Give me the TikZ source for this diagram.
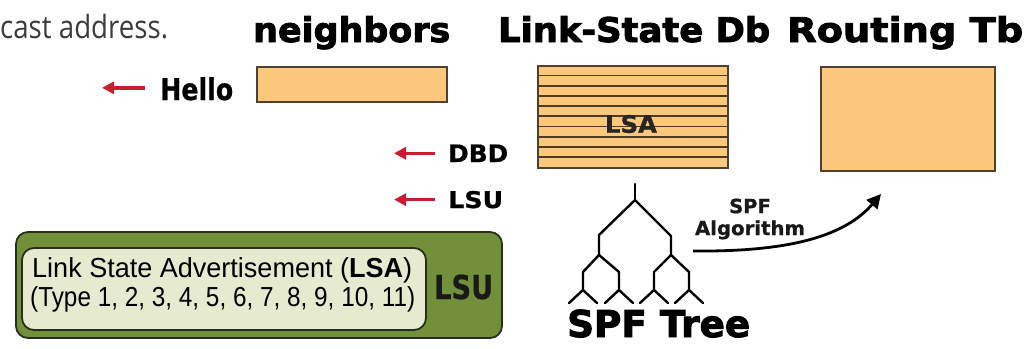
\documentclass[tikz,border=0pt]{standalone}
\usepackage{fontspec}
\usepackage{graphicx}
\usetikzlibrary{arrows.meta}
\setmainfont{Liberation Sans}
\newfontfamily\dv{DejaVu Sans}
\newfontfamily\dvheavy[FakeBold=2.6]{DejaVu Sans Bold}
\newfontfamily\dvsemi[FakeBold=0.8]{DejaVu Sans Bold}
\newfontfamily\osans{Open Sans}

\definecolor{tableorange}{HTML}{FCC87C}
\definecolor{tableedge}{HTML}{4F4030}
\definecolor{stripe}{HTML}{4D3B22}
\definecolor{arrowred}{HTML}{C62030}
\definecolor{olive}{HTML}{72903A}
\definecolor{oliveedge}{HTML}{26301A}
\definecolor{paleolive}{HTML}{E6EACF}
\definecolor{notegray}{HTML}{3C3C3C}

% stretch a box to a given width, keeping its height
\newcommand\fitto[2]{\resizebox{#1}{\height}{#2}}

\tikzset{
  heading/.style={anchor=base west, inner sep=0pt,
    font=\dvheavy\fontsize{34}{34}\selectfont},
  msg/.style={anchor=base west, inner sep=0pt},
  tablebox/.style={draw=tableedge, fill=tableorange, line width=1.4pt,
    inner sep=0pt},
  redarrow/.style={draw=arrowred, line width=3.4pt,
    -{Triangle[length=12pt,width=12pt]}, arrowred},
  treeline/.style={line width=2.4pt, line cap=round, line join=round},
  panel/.style={rounded corners=12pt, line width=1.8pt, inner sep=0pt},
}

\begin{document}
\begin{tikzpicture}[x=1pt, y=-1pt]
\useasboundingbox (0,0) rectangle (1030,348);

% partial note at the top left
\node[anchor=base west, inner sep=0pt, text=notegray,
  font=\osans\fontsize{32}{32}\selectfont] (note) at (0,38)
  {\fitto{168pt}{cast address.}};

% headings
\node[heading] (hnb) at (253,42) {\fitto{197pt}{neighbors}};
\node[heading] (hdb) at (498,42) {\fitto{272pt}{Link-State Db}};
\node[heading] (hrt) at (787,42) {\fitto{236pt}{Routing Tb}};

% tables
\node[tablebox, minimum width=190pt, minimum height=35pt] (nb) at (352,84.5) {};
\node[tablebox, minimum width=190pt, minimum height=102pt] (db) at (633,117) {};
\node[tablebox, minimum width=174pt, minimum height=104pt] (rt) at (908,119) {};

% database records
\foreach \k in {1,...,9}
  \draw[stripe, line width=1.8pt]
    ([yshift=-\k*10.2pt]db.north west) -- ([yshift=-\k*10.2pt]db.north east);
\draw[tableedge, line width=1.4pt] (db.north west) rectangle (db.south east);
\node[inner sep=0pt, text=black!85,
  font=\dvsemi\fontsize{24}{24}\selectfont] (lsa) at (631,124)
  {\fitto{52pt}{LSA}};

% packet types sent to the neighbours
\node[msg, font=\dvsemi\fontsize{30}{30}\selectfont] (hello) at (160,100)
  {\fitto{73pt}{Hello}};
\node[msg, font=\dvsemi\fontsize{24}{24}\selectfont] (dbd) at (448,162)
  {\fitto{60pt}{DBD}};
\node[msg, font=\dvsemi\fontsize{23}{23}\selectfont] (lsu) at (448,208)
  {\fitto{55pt}{LSU}};
\draw[redarrow] ([xshift=-15pt,yshift=1pt]hello.west) -- ++(-43,0);
\draw[redarrow] ([xshift=-13pt]dbd.west) -- ++(-41,0);
\draw[redarrow] ([xshift=-13pt]lsu.west) -- ++(-41,0);

% LSU packet carrying the LSAs
\node[panel, draw=oliveedge, fill=olive, minimum width=486pt,
  minimum height=106pt] (lsupkt) at (259,285) {};
\node[panel, draw=oliveedge, fill=paleolive, minimum width=404pt,
  minimum height=82pt] (lsabox) at (224,289) {};
\node[anchor=base west, inner sep=0pt, font=\fontsize{27.5}{27.5}\selectfont]
  (lsaline1) at (32,277) {\fitto{380pt}{Link State Advertisement (\textbf{LSA})}};
\node[anchor=base west, inner sep=0pt, font=\fontsize{27.5}{27.5}\selectfont]
  (lsaline2) at (30,306) {\fitto{385pt}{(Type 1, 2, 3, 4, 5, 6, 7, 8, 9, 10, 11)}};
\node[anchor=base west, inner sep=0pt, text=black!90,
  font=\dvsemi\fontsize{33}{33}\selectfont]
  (lsutag) at (434,299) {\fitto{59pt}{LSU}};

% SPF tree
\coordinate (r0) at (635,184);
\coordinate (r)  at (635,200);
\draw[treeline] (r0) -- (r);
\coordinate (a) at (599,255);
\coordinate (b) at (671,255);
\draw[treeline] (r) -- (599,235) -- (a);
\draw[treeline] (r) -- (671,236) -- (b);
\foreach \p/\x in {a/583, a/619, b/654, b/689}{
  \draw[treeline] (\p) -- (\x,272) -- (\x,290);
  \draw[treeline] (\x-14,303) -- (\x,290) -- (\x+14,303);
}
\node[anchor=base west, inner sep=0pt,
  font=\dvheavy\fontsize{37}{37}\selectfont] (spftree) at (567,337)
  {\fitto{183pt}{SPF Tree}};

% SPF algorithm: tree to routing table
\coordinate (algstart) at (693,251);
\coordinate (algend) at (881,194);
\draw[line width=2.8pt, -{Triangle[length=14pt,width=14pt]}]
  (algstart) .. controls (790,252) and (845,236) .. (algend);
\node[align=center, inner sep=0pt,
  font=\dvsemi\fontsize{19.5}{22}\selectfont, text=black!90]
  (algname) at (750,219) {SPF\\\fitto{110pt}{Algorithm}};
\end{tikzpicture}
\end{document}
